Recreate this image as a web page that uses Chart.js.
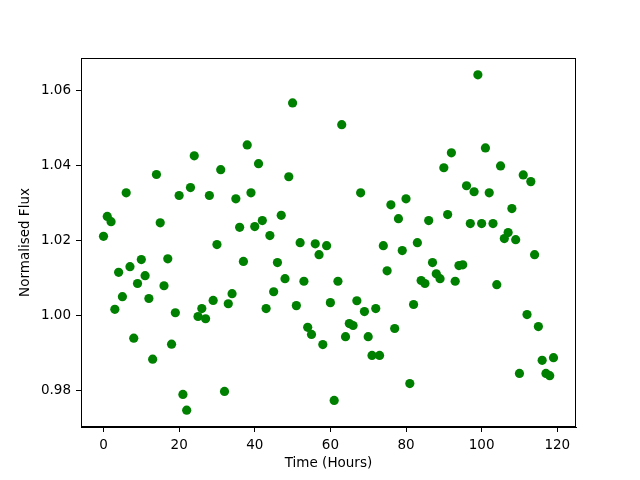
<!DOCTYPE html>
<html>
<head>
<meta charset="utf-8">
<script src="https://cdn.jsdelivr.net/npm/chart.js@4/dist/chart.umd.min.js"></script>
<style>
  html, body { margin: 0; padding: 0; background: #fff; }
  #wrap { width: 640px; height: 480px; }
</style>
</head>
<body>
<div id="wrap"><canvas id="chart" width="640" height="480"></canvas></div>
<script>
// hours 0..119, one reading per hour
const hours = [
    0, 1, 2, 3, 4, 5, 6, 7, 8, 9, 10, 11, 12, 13, 14, 15, 16, 17, 18, 19,
    20, 21, 22, 23, 24, 25, 26, 27, 28, 29, 30, 31, 32, 33, 34, 35, 36, 37, 38, 39,
    40, 41, 42, 43, 44, 45, 46, 47, 48, 49, 50, 51, 52, 53, 54, 55, 56, 57, 58, 59,
    60, 61, 62, 63, 64, 65, 66, 67, 68, 69, 70, 71, 72, 73, 74, 75, 76, 77, 78, 79,
    80, 81, 82, 83, 84, 85, 86, 87, 88, 89, 90, 91, 92, 93, 94, 95, 96, 97, 98, 99,
    100, 101, 102, 103, 104, 105, 106, 107, 108, 109, 110, 111, 112, 113, 114, 115, 116, 117, 118, 119
];

const flux = [
    1.0211, 1.0264, 1.0250, 1.0016, 1.0115, 1.0050, 1.0327, 1.0130, 0.9939, 1.0085,
    1.0149, 1.0106, 1.0045, 0.9883, 1.0376, 1.0247, 1.0079, 1.0151, 0.9923, 1.0007,
    1.0320, 0.9789, 0.9747, 1.0341, 1.0426, 0.9997, 1.0018, 0.9991, 1.0320, 1.0040,
    1.0189, 1.0389, 0.9797, 1.0031, 1.0058, 1.0311, 1.0235, 1.0144, 1.0455, 1.0327,
    1.0237, 1.0405, 1.0253, 1.0018, 1.0213, 1.0063, 1.0141, 1.0267, 1.0098, 1.0370,
    1.0567, 1.0026, 1.0194, 1.0091, 0.9968, 0.9949, 1.0191, 1.0162, 0.9922, 1.0186,
    1.0034, 0.9773, 1.0091, 1.0509, 0.9943, 0.9978, 0.9973, 1.0039, 1.0327, 1.0010,
    0.9943, 0.9893, 1.0018, 0.9893, 1.0186, 1.0119, 1.0295, 0.9965, 1.0258, 1.0173,
    1.0311, 0.9818, 1.0029, 1.0194, 1.0093, 1.0085, 1.0253, 1.0141, 1.0111, 1.0098,
    1.0394, 1.0269, 1.0434, 1.0091, 1.0133, 1.0135, 1.0346, 1.0245, 1.0330, 1.0642,
    1.0245, 1.0447, 1.0327, 1.0245, 1.0082, 1.0399, 1.0205, 1.0221, 1.0285, 1.0202,
    0.9845, 1.0375, 1.0002, 1.0357, 1.0162, 0.9970, 0.9880, 0.9845, 0.9839, 0.9887
];

const xTicks = [0, 20, 40, 60, 80, 100, 120];
const yTicks = [0.98, 1.00, 1.02, 1.04, 1.06];

const points = hours.map((h, i) => ({ x: h, y: flux[i] }));

// matplotlib-style box around the axes
const frameBox = {
    id: 'frameBox',
    afterDatasetsDraw(chart) {
        const a = chart.chartArea;
        const ctx = chart.ctx;
        ctx.save();
        ctx.strokeStyle = '#000';
        ctx.lineWidth = 1;
        ctx.strokeRect(a.left + 0.5, a.top + 0.5, a.right - a.left - 1, a.bottom - a.top - 1);
        ctx.restore();
    }
};

const font = { family: 'DejaVu Sans', size: 13.5 };

new Chart(document.getElementById('chart'), {
    type: 'scatter',
    data: {
        datasets: [{
            data: points,
            backgroundColor: '#008000',
            borderWidth: 0,
            pointRadius: 4.6,
            pointHoverRadius: 4.6
        }]
    },
    options: {
        responsive: false,
        animation: false,
        events: [],
        plugins: { legend: { display: false }, tooltip: { enabled: false } },
        layout: { padding: { top: 58, right: 64, left: 0, bottom: 0 } },
        scales: {
            x: {
                type: 'linear',
                min: -5.95,
                max: 124.95,
                afterFit: s => { s.height = 53; },
                afterBuildTicks: s => { s.ticks = xTicks.map(v => ({ value: v })); },
                ticks: { color: '#000', font: font, padding: 5, maxRotation: 0 },
                grid: { display: true, drawOnChartArea: false, drawTicks: true, tickLength: 5, color: '#000' },
                border: { display: true, color: '#000' },
                title: { display: true, text: 'Time (Hours)', color: '#000', font: font, padding: { top: 0, bottom: 8 } }
            },
            y: {
                type: 'linear',
                min: 0.9702,
                max: 1.0687,
                afterFit: s => { s.width = 81; },
                afterBuildTicks: s => { s.ticks = yTicks.map(v => ({ value: v })); },
                ticks: { color: '#000', font: font, padding: 5, callback: v => v.toFixed(2) },
                grid: { display: true, drawOnChartArea: false, drawTicks: true, tickLength: 5, color: '#000' },
                border: { display: true, color: '#000' },
                title: { display: true, text: 'Normalised Flux', color: '#000', font: font, padding: { top: 17, bottom: 17 } }
            }
        }
    },
    plugins: [frameBox]
});
</script>
</body>
</html>
